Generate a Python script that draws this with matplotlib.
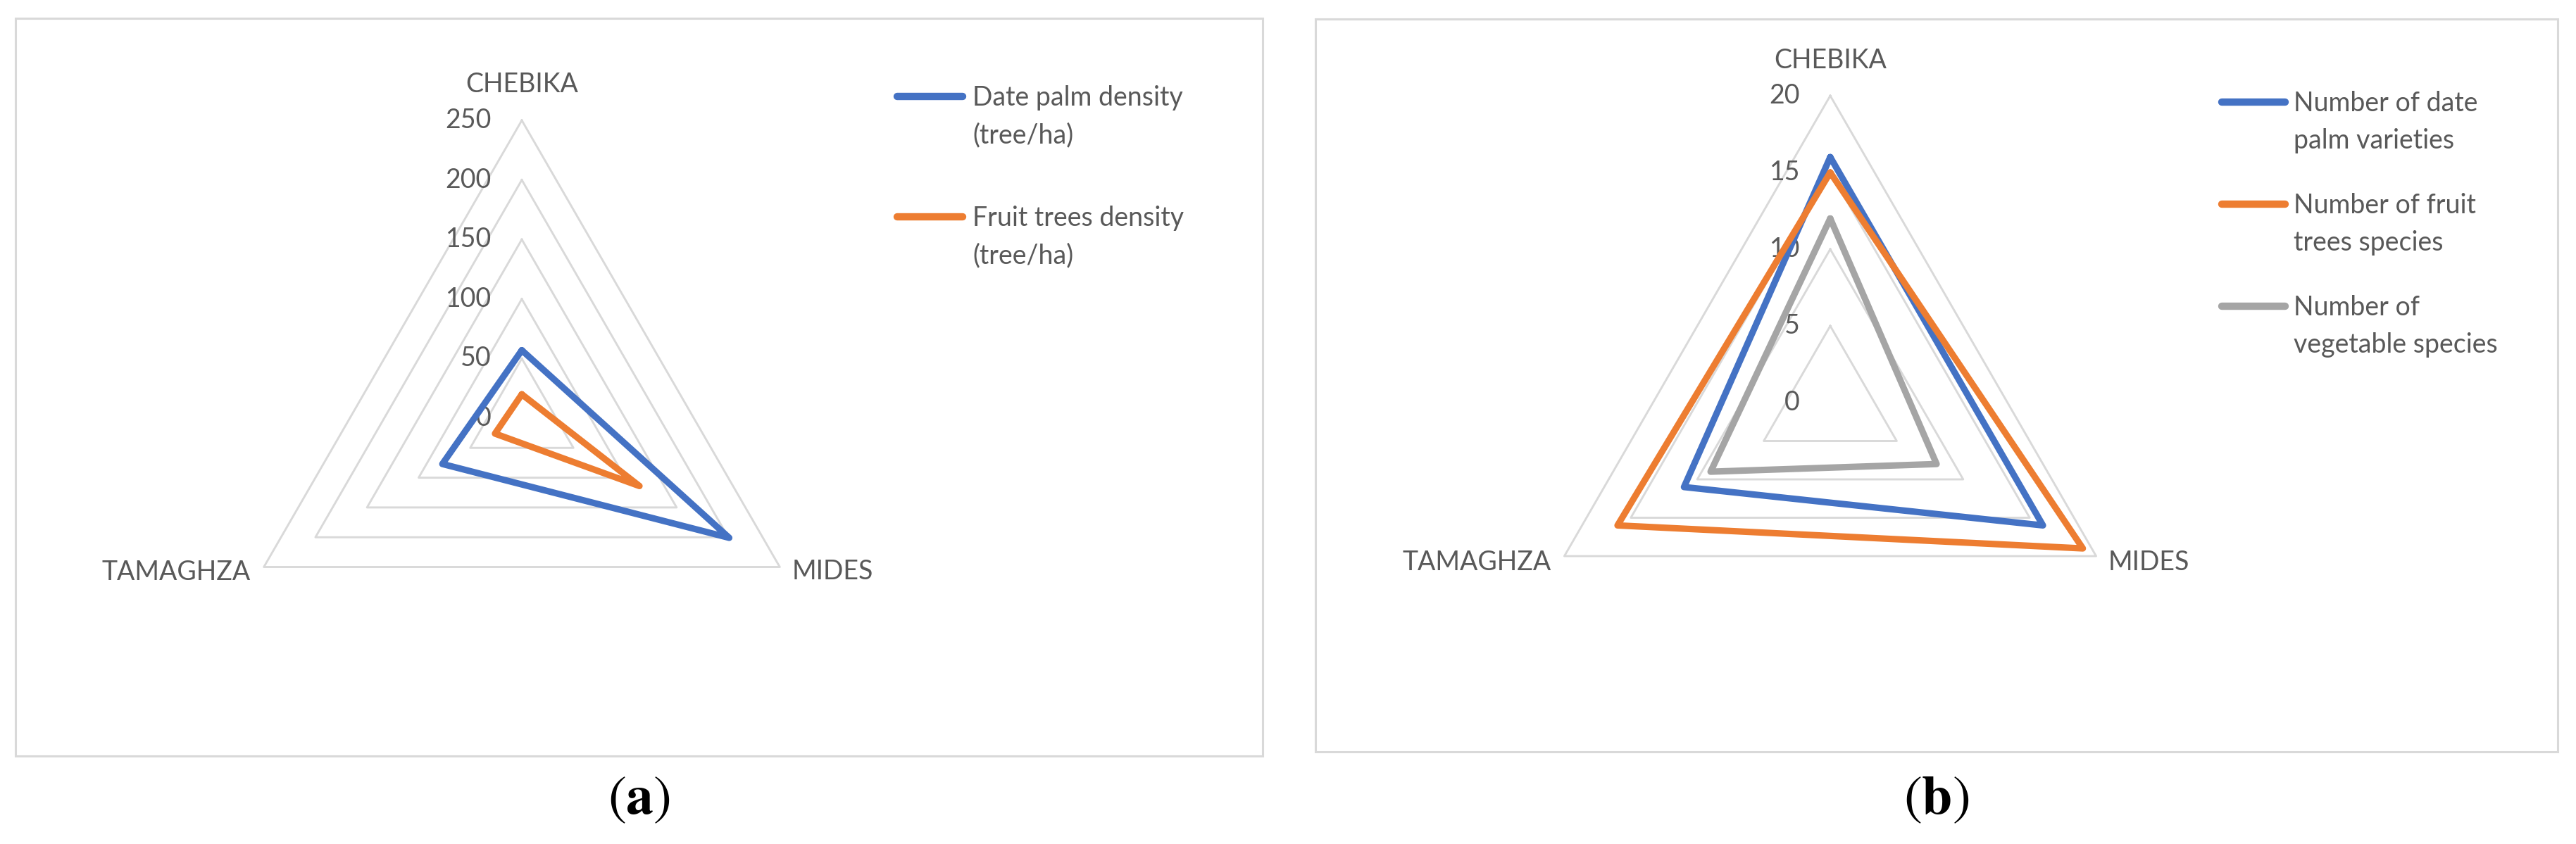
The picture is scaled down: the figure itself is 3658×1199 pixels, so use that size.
import numpy as np
import matplotlib
matplotlib.use("Agg")
import matplotlib.pyplot as plt
from matplotlib.patches import Rectangle
from matplotlib.lines import Line2D

# --- data -----------------------------------------------------------------
sites = ["CHEBIKA", "MIDES", "TAMAGHZA"]

# panel (a): densities (tree/ha)
ticks_a = [0, 50, 100, 150, 200, 250]
date_palm_density = [57, 201, 77]
fruit_tree_density = [20, 114, 26]
labels_a = ["Date palm density\n(tree/ha)", "Fruit trees density\n(tree/ha)"]

# panel (b): number of varieties / species
ticks_b = [0, 5, 10, 15, 20]
n_date_palm_varieties = [16, 16, 11]
n_fruit_tree_species = [15, 19, 16]
n_vegetable_species = [12, 8, 9]
labels_b = ["Number of date\npalm varieties", "Number of fruit\ntrees species",
            "Number of\nvegetable species"]

BLUE, ORANGE, GRAY = "#4472C4", "#ED7D31", "#A5A5A5"
TXT = "#595959"
GRID = "#D9D9D9"

W, H = 3658, 1199
plt.rcParams["font.family"] = ["Lato", "DejaVu Sans"]
plt.rcParams["mathtext.fontset"] = "stix"
FS = 27

fig = plt.figure(figsize=(W / 100, H / 100), dpi=100)


def fx(x):
    return x / W


def fy(y):
    return 1 - y / H


def panel_box(x0, y0, x1, y1):
    fig.add_artist(Rectangle((fx(x0), fy(y1)), fx(x1) - fx(x0), fy(y0) - fy(y1),
                             transform=fig.transFigure, fill=False,
                             edgecolor=GRID, linewidth=2.2))


def radar(cx, cy, R, ticks, series, colors, cat_off):
    ax = fig.add_axes([fx(cx - R), fy(cy + R), 2 * R / W, 2 * R / H],
                      projection="polar")
    ax.set_theta_zero_location("N")
    ax.set_theta_direction(-1)
    ax.set_ylim(0, ticks[-1])
    ax.set_axis_off()

    ang = np.deg2rad([0, 120, 240, 0])

    # triangular grid rings
    for v in ticks[1:]:
        ax.plot(ang, [v] * 4, color=GRID, lw=2.1, clip_on=False, zorder=1)

    for vals, c in zip(series, colors):
        ax.plot(ang, list(vals) + [vals[0]], color=c, lw=6.6,
                solid_joinstyle="round", solid_capstyle="round",
                clip_on=False, zorder=3)

    # radial tick labels along CHEBIKA axis
    for v in ticks:
        ax.annotate(str(v), xy=(0, v), xytext=(-43, 0), textcoords="offset pixels",
                    ha="right", va="center", fontsize=FS, color=TXT,
                    annotation_clip=False, zorder=2)

    # category labels
    aligns = ["center", "left", "right"]
    for name, a, off, ha in zip(sites, ang[:3], cat_off, aligns):
        ax.annotate(name, xy=(a, ticks[-1]), xytext=off, textcoords="offset pixels",
                    ha=ha, va="center", fontsize=FS, color=TXT,
                    annotation_clip=False)
    return ax


def legend(x_line0, x_line1, x_text, y_base0, step, line_gap, labels, colors):
    for i, (lab, c) in enumerate(zip(labels, colors)):
        yb = y_base0 + i * step
        fig.add_artist(Line2D([fx(x_line0), fx(x_line1)], [fy(yb - 13)] * 2,
                              transform=fig.transFigure, color=c, lw=7.5,
                              solid_capstyle="round"))
        for j, line in enumerate(lab.split("\n")):
            fig.text(fx(x_text), fy(yb + j * line_gap), line, ha="left",
                     va="baseline", fontsize=FS, color=TXT)


# panel (a)
panel_box(22, 26, 1793, 1074)
radar(741, 594, 423, ticks_a, [date_palm_density, fruit_tree_density],
      [BLUE, ORANGE], [(0, 51), (17, -7), (-19, -7)])
legend(1274, 1367, 1381, 150, 171, 53, labels_a, [BLUE, ORANGE])
fig.text(fx(907), fy(1137), r"$(\mathbf{a})$", ha="center", va="center",
         fontsize=56, color="black")

# panel (b)
panel_box(1868, 27, 3632, 1068)
radar(2599, 572, 436, ticks_b,
      [n_date_palm_varieties, n_fruit_tree_species, n_vegetable_species],
      [BLUE, ORANGE, GRAY], [(0, 50), (17, -9), (-19, -9)])
legend(3155, 3245, 3257, 158, 145, 53, labels_b, [BLUE, ORANGE, GRAY])
fig.text(fx(2750), fy(1137), r"$(\mathbf{b})$", ha="center", va="center",
         fontsize=56, color="black")

fig.savefig("out.png", dpi=100)
plt.close(fig)
